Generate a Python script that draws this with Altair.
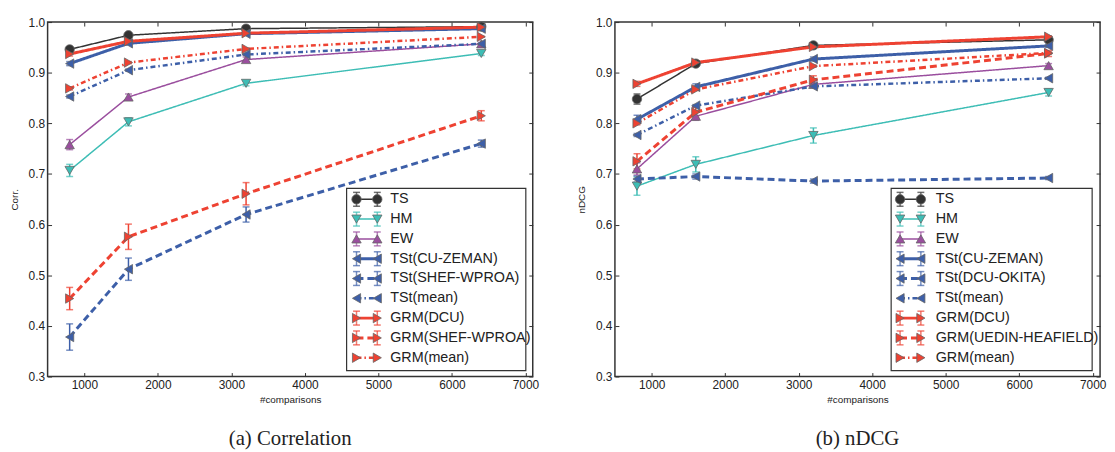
import altair as alt
import pandas as pd

# ---------------- data ----------------
x_vals = [800, 1600, 3200, 6400]

corr_series = ["TS", "HM", "EW", "TSt(CU-ZEMAN)", "TSt(SHEF-WPROA)", "TSt(mean)",
               "GRM(DCU)", "GRM(SHEF-WPROA)", "GRM(mean)"]
corr_ts = [0.946, 0.974, 0.987, 0.991]
corr_hm = [0.707, 0.803, 0.879, 0.938]
corr_ew = [0.758, 0.852, 0.926, 0.957]
corr_tst_cu = [0.918, 0.958, 0.977, 0.987]
corr_tst_shef = [0.378, 0.512, 0.620, 0.760]
corr_tst_mean = [0.853, 0.905, 0.936, 0.957]
corr_grm_dcu = [0.937, 0.962, 0.978, 0.990]
corr_grm_shef = [0.454, 0.576, 0.661, 0.815]
corr_grm_mean = [0.869, 0.920, 0.947, 0.971]

corr_err_ts = [0.004, 0.004, 0.003, 0.002]
corr_err_hm = [0.012, 0.008, 0.005, 0.004]
corr_err_ew = [0.010, 0.006, 0.005, 0.003]
corr_err_tst_cu = [0.004, 0.003, 0.002, 0.002]
corr_err_tst_shef = [0.026, 0.022, 0.015, 0.007]
corr_err_tst_mean = [0.003, 0.002, 0.002, 0.001]
corr_err_grm_dcu = [0.004, 0.003, 0.002, 0.002]
corr_err_grm_shef = [0.022, 0.025, 0.022, 0.010]
corr_err_grm_mean = [0.003, 0.002, 0.002, 0.001]

ndcg_series = ["TS", "HM", "EW", "TSt(CU-ZEMAN)", "TSt(DCU-OKITA)", "TSt(mean)",
               "GRM(DCU)", "GRM(UEDIN-HEAFIELD)", "GRM(mean)"]
ndcg_ts = [0.848, 0.918, 0.954, 0.965]
ndcg_hm = [0.676, 0.719, 0.776, 0.861]
ndcg_ew = [0.710, 0.814, 0.877, 0.914]
ndcg_tst_cu = [0.808, 0.872, 0.927, 0.953]
ndcg_tst_dcu = [0.690, 0.695, 0.686, 0.692]
ndcg_tst_mean = [0.777, 0.835, 0.873, 0.889]
ndcg_grm_dcu = [0.878, 0.920, 0.951, 0.971]
ndcg_grm_uedin = [0.725, 0.822, 0.886, 0.938]
ndcg_grm_mean = [0.800, 0.867, 0.913, 0.939]

ndcg_err_ts = [0.010, 0.005, 0.004, 0.003]
ndcg_err_hm = [0.018, 0.015, 0.015, 0.007]
ndcg_err_ew = [0.012, 0.008, 0.005, 0.004]
ndcg_err_tst_cu = [0.008, 0.006, 0.004, 0.003]
ndcg_err_tst_dcu = [0.006, 0.005, 0.004, 0.003]
ndcg_err_tst_mean = [0.003, 0.002, 0.002, 0.002]
ndcg_err_grm_dcu = [0.005, 0.004, 0.003, 0.002]
ndcg_err_grm_uedin = [0.015, 0.010, 0.008, 0.006]
ndcg_err_grm_mean = [0.003, 0.002, 0.002, 0.002]

corr_vals = [corr_ts, corr_hm, corr_ew, corr_tst_cu, corr_tst_shef, corr_tst_mean,
             corr_grm_dcu, corr_grm_shef, corr_grm_mean]
corr_errs = [corr_err_ts, corr_err_hm, corr_err_ew, corr_err_tst_cu, corr_err_tst_shef,
             corr_err_tst_mean, corr_err_grm_dcu, corr_err_grm_shef, corr_err_grm_mean]
ndcg_vals = [ndcg_ts, ndcg_hm, ndcg_ew, ndcg_tst_cu, ndcg_tst_dcu, ndcg_tst_mean,
             ndcg_grm_dcu, ndcg_grm_uedin, ndcg_grm_mean]
ndcg_errs = [ndcg_err_ts, ndcg_err_hm, ndcg_err_ew, ndcg_err_tst_cu, ndcg_err_tst_dcu,
             ndcg_err_tst_mean, ndcg_err_grm_dcu, ndcg_err_grm_uedin, ndcg_err_grm_mean]

x_ticks = [1000, 2000, 3000, 4000, 5000, 6000, 7000]
y_ticks = [0.3, 0.4, 0.5, 0.6, 0.7, 0.8, 0.9, 1.0]

# ---------------- styles ----------------
C_TS, C_HM, C_EW, C_TST, C_GRM = "#333333", "#3dbdb5", "#9a4e9e", "#3d5fa8", "#ee4232"
colors = [C_TS, C_HM, C_EW, C_TST, C_TST, C_TST, C_GRM, C_GRM, C_GRM]
shapes = ["circle", "triangle-down", "triangle-up", "triangle-left", "triangle-left",
          "triangle-left", "triangle-right", "triangle-right", "triangle-right"]
SOLID, DASH, DASHDOT = [1, 0], [7, 4], [5, 3, 1.5, 3]
dashes = [SOLID, SOLID, SOLID, SOLID, DASH, DASHDOT, SOLID, DASH, DASHDOT]
widths = [1.5, 1.5, 1.5, 3, 3, 2.5, 3, 3, 2.5]
legend_err = [True, True, True, True, True, False, True, True, False]
KDOM = list(range(9))

FONT = "Liberation Sans"
W, H = 490, 358


def make_panel(names, vals, errs, ytitle, caption, box, mk, tx):
    rows = []
    for i, n in enumerate(names):
        for xv, yv, ev in zip(x_vals, vals[i], errs[i]):
            rows.append(dict(series=n, k=i, x=xv, y=yv, lo=yv - ev, hi=yv + ev, w=widths[i]))
    df = pd.DataFrame(rows)
    leg = pd.DataFrame(dict(series=names, k=list(range(len(names))), w=widths, err=legend_err))
    leg_err = leg[leg["err"]]

    color = alt.Color("k:N", scale=alt.Scale(domain=KDOM, range=colors), legend=None)
    shape = alt.Shape("k:N", scale=alt.Scale(domain=KDOM, range=shapes), legend=None)
    dash = alt.StrokeDash("k:N", scale=alt.Scale(domain=KDOM, range=dashes), legend=None)
    sw = alt.StrokeWidth("w:Q", scale=None)
    xs = alt.Scale(domain=[500, 7100], nice=False, zero=False)
    ys = alt.Scale(domain=[0.3, 1.0], nice=False, zero=False)

    x_main = alt.X("x:Q", scale=xs, axis=alt.Axis(
        orient="bottom", values=x_ticks, format="d", offset=-4, tickSize=4, domain=False,
        grid=False, labelPadding=3, labelFontSize=12, title="#comparisons",
        titleFontSize=10, titleFontWeight="normal", titlePadding=4))
    y_main = alt.Y("y:Q", scale=ys, axis=alt.Axis(
        orient="left", values=y_ticks, format=".1f", offset=-4, tickSize=4, domain=False,
        grid=False, labelPadding=3, labelFontSize=12, title=ytitle, titleFontSize=10,
        titleFontWeight="normal", titlePadding=9))
    x_top = alt.X("x:Q", scale=xs, axis=alt.Axis(
        orient="top", values=x_ticks, offset=-4, tickSize=4, domain=False, grid=False,
        labels=False, title=None))
    y_right = alt.Y("y:Q", scale=ys, axis=alt.Axis(
        orient="right", values=y_ticks, offset=-4, tickSize=4, domain=False, grid=False,
        labels=False, title=None))
    x_plain = alt.X("x:Q", scale=xs, axis=None)

    base = alt.Chart(df)
    lines = base.mark_line().encode(x=x_main, y=y_main, color=color, strokeDash=dash,
                                    strokeWidth=sw, detail="k:N")
    err_rule = base.mark_rule(strokeWidth=1.5).encode(
        x=x_plain, y=alt.Y("lo:Q", scale=ys, axis=None), y2="hi:Q", color=color)
    err_lo = base.mark_tick(orient="horizontal", size=7, thickness=1.5).encode(
        x=x_plain, y=alt.Y("lo:Q", scale=ys, axis=None), color=color)
    err_hi = base.mark_tick(orient="horizontal", size=7, thickness=1.5).encode(
        x=x_plain, y=alt.Y("hi:Q", scale=ys, axis=None), color=color)
    pts = base.mark_point(filled=True, size=90, opacity=1, stroke="#666666",
                          strokeWidth=0.8).encode(x=x_top, y=y_right, color=color, shape=shape)

    # legend
    ly = alt.Y("k:O", scale=alt.Scale(type="point", domain=KDOM,
                                      range=[box[1] + 11, box[1] + 171], padding=0), axis=None)
    lrect = alt.Chart(pd.DataFrame({"a": [0]})).mark_rect(
        fill="white", stroke="#333333", strokeWidth=1.2).encode(
        x=alt.value(box[0]), x2=alt.value(box[2]), y=alt.value(box[1]), y2=alt.value(box[3]))
    lb = alt.Chart(leg)
    lline = lb.mark_rule().encode(x=alt.value(mk[0]), x2=alt.value(mk[1]), y=ly,
                                  color=color, strokeDash=dash, strokeWidth=sw)
    lbe = alt.Chart(leg_err)
    lerr = []
    for xm in mk:
        lerr.append(lbe.mark_tick(orient="vertical", size=14, thickness=1.5).encode(
            x=alt.value(xm), y=ly, color=color))
        for off in (-7, 7):
            lerr.append(lbe.mark_tick(orient="horizontal", size=7, thickness=1.5,
                                      yOffset=off).encode(x=alt.value(xm), y=ly, color=color))
    lpts = [lb.mark_point(filled=True, size=90, opacity=1, stroke="#666666",
                          strokeWidth=0.8).encode(x=alt.value(xm), y=ly, color=color, shape=shape)
            for xm in mk]
    ltext = lb.mark_text(align="left", baseline="middle", fontSize=14.5, font=FONT,
                         color="#222222").encode(x=alt.value(tx), y=ly, text="series:N")

    layers = [lines, err_rule, err_lo, err_hi, pts, lrect, lline] + lerr + lpts + [ltext]
    return alt.layer(*layers).resolve_scale(x="independent", y="independent").properties(
        width=W, height=H,
        title=alt.TitleParams(caption, orient="bottom", font="Liberation Serif",
                              fontSize=21, fontWeight="normal", color="#222222",
                              offset=24, anchor="middle"))


p1 = make_panel(corr_series, corr_vals, corr_errs, "Corr.", "(a) Correlation",
                box=(302, 168, 483, 352), mk=(312, 333), tx=346)
p2 = make_panel(ndcg_series, ndcg_vals, ndcg_errs, "nDCG", "(b) nDCG",
                box=(279, 168, 482, 352), mk=(288, 309), tx=324)

chart = alt.hconcat(p1, p2, spacing=36).properties(
    padding={"left": 0, "top": 5, "right": 0, "bottom": 0}
).configure_view(stroke="#333333", strokeWidth=1.5).configure_axis(
    labelFont=FONT, titleFont=FONT, tickColor="#333333", labelColor="#222222",
    titleColor="#222222", tickWidth=1)

chart.save("out.html", embed_options={"renderer": "svg", "actions": False})
